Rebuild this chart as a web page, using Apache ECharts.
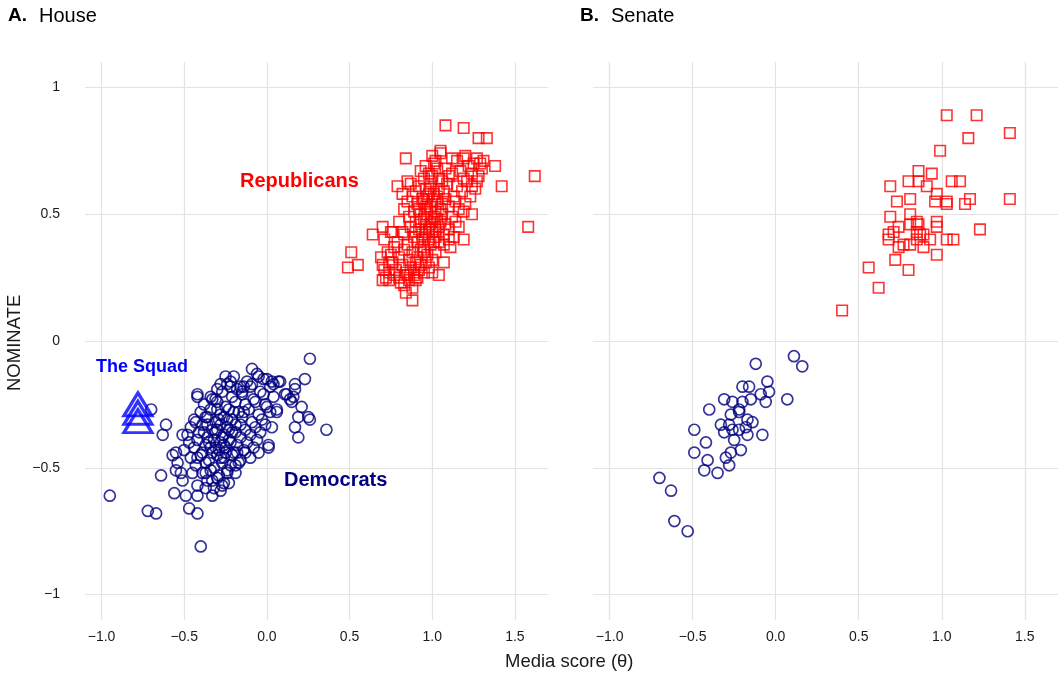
<!DOCTYPE html>
<html>
<head>
<meta charset="utf-8">
<script src="https://cdn.jsdelivr.net/npm/echarts@6/dist/echarts.min.js"></script>
<style>
  html, body { margin: 0; padding: 0; background: #fff; }
  #chart { width: 1058px; height: 676px; }
</style>
</head>
<body>
<div id="chart"></div>
<script>
// Ideology (DW-NOMINATE) against media score, by chamber.
const xTicks = [-1.0, -0.5, 0.0, 0.5, 1.0, 1.5];
const yTicks = [-1, -0.5, 0, 0.5, 1];

// House Republicans: [media score, NOMINATE]
const houseRepublicans = [
  [1.08,0.85],[1.19,0.84],[1.28,0.80],[1.33,0.80],[0.84,0.72],[1.05,0.75],[1.38,0.69],[1.62,0.65],
  [1.42,0.61],[0.85,0.63],[0.79,0.61],[1.58,0.45],[0.64,0.42],[0.51,0.35],[0.49,0.29],[0.55,0.30],
  [0.84,0.19],[0.88,0.16],[1.00,0.27],[1.04,0.26],[1.07,0.31],[0.90,0.24],[0.70,0.24],[0.74,0.24],
  [0.71,0.28],[0.69,0.33],[1.19,0.40],[1.11,0.37],[1.07,0.38],[1.24,0.50],[1.19,0.72],[1.27,0.72],
  [1.31,0.71],[1.28,0.65],[1.24,0.61],[0.70,0.45],[0.76,0.43],[0.82,0.43],[0.75,0.34],[0.74,0.31],
  [0.90,0.31],[0.89,0.27],[0.91,0.25],
  [1.00,0.73],[1.02,0.71],[1.05,0.74],[1.12,0.72],[1.20,0.73],[1.25,0.70],
  [0.96,0.69],[1.01,0.70],[1.08,0.68],[1.15,0.71],[1.22,0.69],[1.29,0.70],
  [0.93,0.67],[0.98,0.66],[1.03,0.68],[1.10,0.65],[1.17,0.67],[1.24,0.66],[1.30,0.68],
  [0.95,0.64],[1.00,0.65],[1.06,0.63],[1.12,0.66],[1.19,0.64],[1.27,0.63],
  [0.87,0.62],[0.92,0.61],[0.99,0.63],[1.04,0.60],[1.09,0.62],[1.15,0.61],[1.21,0.63],[1.26,0.60],
  [0.90,0.59],[0.96,0.60],[1.01,0.58],[1.07,0.59],[1.13,0.57],[1.18,0.59],[1.23,0.57],
  [0.82,0.58],[0.88,0.57],[0.94,0.56],[0.98,0.58],[1.03,0.55],[1.08,0.56],[1.14,0.55],[1.20,0.54],
  [0.85,0.55],[0.91,0.54],[0.96,0.53],[1.00,0.55],[1.05,0.52],[1.10,0.53],[1.16,0.52],
  [0.83,0.52],[0.89,0.51],[0.93,0.50],[0.97,0.52],[1.01,0.49],[1.06,0.50],[1.12,0.49],[1.19,0.51],
  [0.86,0.49],[0.90,0.47],[0.95,0.48],[0.99,0.46],[1.03,0.48],[1.08,0.46],[1.14,0.47],
  [0.80,0.47],[0.87,0.45],[0.92,0.44],[0.96,0.45],[1.00,0.43],[1.04,0.45],[1.10,0.44],[1.16,0.45],
  [0.75,0.43],[0.83,0.42],[0.89,0.41],[0.94,0.42],[0.98,0.40],[1.02,0.41],[1.07,0.42],[1.13,0.41],
  [0.71,0.40],[0.79,0.39],[0.85,0.38],[0.91,0.39],[0.95,0.37],[0.99,0.38],[1.04,0.39],[1.10,0.40],
  [0.77,0.37],[0.83,0.36],[0.88,0.35],[0.93,0.36],[0.97,0.34],[1.02,0.35],
  [0.73,0.35],[0.80,0.33],[0.86,0.32],[0.91,0.33],[0.96,0.31],[1.00,0.32],
  [0.76,0.31],[0.82,0.30],[0.87,0.29],[0.93,0.30],[0.98,0.29],
  [0.70,0.30],[0.78,0.28],[0.84,0.27],[0.89,0.26],[0.95,0.27],
  [0.74,0.27],[0.80,0.25],[0.86,0.24],[0.92,0.28],
  [0.77,0.26],[0.83,0.22],[0.88,0.21],
  [0.72,0.25],[0.81,0.23],[0.85,0.26],
  [0.95,0.55],[0.97,0.50],[0.99,0.53],[1.02,0.51],[0.93,0.47],[0.96,0.43],[1.00,0.47],[1.02,0.44],
  [0.94,0.40],[0.98,0.44],[1.03,0.57],[0.97,0.57],[1.05,0.47],[0.92,0.52],[0.90,0.43],[1.01,0.39],
  [0.95,0.35],[1.06,0.54],[0.99,0.60],[1.04,0.64]
];

// House Democrats: [media score, NOMINATE]
const houseDemocrats = [
  [0.26,-0.07],[0.36,-0.35],[0.23,-0.15],[0.17,-0.17],[0.17,-0.19],[0.21,-0.26],[0.19,-0.30],[0.25,-0.30],
  [0.26,-0.31],[0.17,-0.34],[0.19,-0.38],[0.06,-0.27],[0.06,-0.28],[0.11,-0.21],[0.14,-0.23],[0.16,-0.22],
  [0.07,-0.16],[0.03,-0.16],[0.00,-0.15],[-0.02,-0.15],[-0.09,-0.11],[-0.06,-0.13],[-0.25,-0.14],[-0.28,-0.17],
  [-0.22,-0.16],[-0.22,-0.18],[-0.09,-0.17],[-0.14,-0.18],[-0.15,-0.20],[-0.31,-0.23],[0.03,-0.34],[0.01,-0.41],
  [-0.01,-0.25],[-0.70,-0.27],[-0.61,-0.33],[-0.63,-0.37],[-0.42,-0.21],[-0.42,-0.22],[-0.51,-0.37],[-0.55,-0.44],
  [-0.43,-0.32],[-0.36,-0.30],[-0.33,-0.23],[-0.30,-0.27],[-0.95,-0.61],[-0.72,-0.67],[-0.67,-0.68],[-0.40,-0.81],
  [-0.64,-0.53],[-0.56,-0.60],[-0.49,-0.61],[-0.47,-0.66],[-0.42,-0.68],[-0.42,-0.61],[-0.33,-0.61],[-0.28,-0.59],
  [-0.23,-0.56],[-0.57,-0.45],[-0.54,-0.48],[-0.55,-0.51],[-0.52,-0.52],[-0.51,-0.55],[-0.45,-0.52],[-0.37,-0.52],
  [-0.33,-0.55],[-0.37,-0.58],[-0.42,-0.57],[-0.24,-0.52],[-0.19,-0.49],[-0.13,-0.44],[-0.05,-0.44],[0.01,-0.42],
  [-0.16,-0.18],[0.04,-0.17],[0.08,-0.16],[0.12,-0.21],[0.15,-0.24],
  [-0.20,-0.14],[-0.12,-0.16],[-0.05,-0.14],
  [-0.30,-0.19],[-0.24,-0.17],[-0.18,-0.19],[-0.10,-0.18],[-0.04,-0.20],[0.02,-0.18],
  [-0.34,-0.22],[-0.27,-0.20],[-0.21,-0.22],[-0.15,-0.21],[-0.08,-0.23],[-0.02,-0.21],[0.04,-0.22],
  [-0.38,-0.25],[-0.30,-0.24],[-0.25,-0.26],[-0.19,-0.24],[-0.13,-0.25],[-0.07,-0.24],[0.00,-0.26],
  [-0.40,-0.28],[-0.34,-0.27],[-0.28,-0.29],[-0.23,-0.27],[-0.17,-0.28],[-0.11,-0.27],[-0.05,-0.29],[0.02,-0.28],
  [-0.44,-0.31],[-0.37,-0.30],[-0.31,-0.32],[-0.26,-0.30],[-0.21,-0.31],[-0.15,-0.30],[-0.09,-0.32],[-0.03,-0.31],
  [-0.46,-0.34],[-0.39,-0.33],[-0.33,-0.35],[-0.28,-0.33],[-0.24,-0.34],[-0.19,-0.33],[-0.13,-0.35],[-0.07,-0.34],[-0.01,-0.33],
  [-0.48,-0.37],[-0.41,-0.36],[-0.36,-0.38],[-0.31,-0.36],[-0.26,-0.37],[-0.21,-0.36],[-0.16,-0.38],[-0.10,-0.37],[-0.04,-0.36],
  [-0.47,-0.40],[-0.42,-0.39],[-0.37,-0.41],[-0.32,-0.39],[-0.28,-0.40],[-0.23,-0.39],[-0.18,-0.41],[-0.12,-0.40],[-0.06,-0.39],
  [-0.50,-0.43],[-0.44,-0.42],[-0.39,-0.44],[-0.34,-0.42],[-0.29,-0.43],[-0.25,-0.42],[-0.20,-0.44],[-0.14,-0.43],[-0.08,-0.42],
  [-0.46,-0.46],[-0.40,-0.45],[-0.35,-0.47],[-0.30,-0.45],[-0.26,-0.46],[-0.21,-0.45],[-0.16,-0.47],[-0.10,-0.46],
  [-0.43,-0.49],[-0.37,-0.48],[-0.32,-0.50],[-0.27,-0.48],[-0.22,-0.49],[-0.17,-0.48],
  [-0.39,-0.52],[-0.34,-0.51],[-0.29,-0.53],[-0.24,-0.51],[-0.19,-0.52],
  [-0.36,-0.55],[-0.30,-0.54],[-0.26,-0.56],
  [-0.32,-0.58],[-0.27,-0.57],
  [-0.30,-0.35],[-0.27,-0.38],[-0.24,-0.31],[-0.22,-0.40],[-0.35,-0.40],[-0.19,-0.36],[-0.33,-0.44],[-0.28,-0.46],
  [-0.25,-0.44],[-0.31,-0.42],[-0.20,-0.28],[-0.16,-0.33],[-0.38,-0.36],[-0.42,-0.46],[-0.23,-0.35],[-0.29,-0.31],
  [-0.14,-0.28],[-0.36,-0.33],[-0.26,-0.41],[-0.18,-0.44]
];

// The Squad (House Democrats marked separately)
const theSquad = [[-0.78,-0.25],[-0.78,-0.283],[-0.78,-0.316]];

// Senate Republicans
const senateRepublicans = [
  [1.03,0.89],[1.21,0.89],[1.16,0.80],[1.41,0.82],[0.99,0.75],[0.86,0.67],[0.94,0.66],[0.69,0.61],
  [0.80,0.63],[0.86,0.63],[0.91,0.61],[0.97,0.58],[1.06,0.63],[1.11,0.63],[0.73,0.55],[0.81,0.56],
  [0.96,0.55],[1.03,0.55],[1.03,0.54],[1.14,0.54],[1.17,0.56],[1.41,0.56],[0.69,0.49],[0.81,0.50],
  [0.85,0.47],[0.86,0.46],[0.81,0.46],[0.97,0.47],[0.97,0.45],[0.74,0.45],[0.71,0.43],[0.68,0.42],
  [0.68,0.40],[0.85,0.43],[0.87,0.42],[0.89,0.42],[0.85,0.40],[0.93,0.40],[1.03,0.40],[1.07,0.40],
  [1.23,0.44],[0.77,0.38],[0.74,0.37],[0.81,0.38],[0.89,0.37],[0.97,0.34],[0.72,0.32],[0.80,0.28],
  [0.56,0.29],[0.62,0.21],[0.40,0.12]
];

// Senate Democrats
const senateDemocrats = [
  [0.11,-0.06],[0.16,-0.10],[-0.12,-0.09],[-0.20,-0.18],[-0.16,-0.18],[-0.05,-0.16],[-0.04,-0.20],[-0.09,-0.21],
  [0.07,-0.23],[-0.06,-0.24],[-0.15,-0.23],[-0.31,-0.23],[-0.26,-0.24],[-0.20,-0.24],[-0.40,-0.27],[-0.22,-0.27],
  [-0.27,-0.29],[-0.22,-0.28],[-0.17,-0.31],[-0.14,-0.32],[-0.18,-0.34],[-0.17,-0.37],[-0.33,-0.33],[-0.28,-0.33],
  [-0.31,-0.36],[-0.26,-0.35],[-0.22,-0.35],[-0.25,-0.39],[-0.08,-0.37],[-0.49,-0.35],[-0.42,-0.40],[-0.21,-0.43],
  [-0.27,-0.44],[-0.30,-0.46],[-0.28,-0.49],[-0.49,-0.44],[-0.41,-0.47],[-0.43,-0.51],[-0.35,-0.52],[-0.70,-0.54],
  [-0.63,-0.59],[-0.61,-0.71],[-0.53,-0.75]
];

const RED = '#ff0000', NAVY = '#000080', BLUE = '#0000ff';
const FONT = '"Liberation Sans", Arial, Helvetica, sans-serif';
const minus = v => String(v).replace('-', '\u2212');

function xAxisFor(gridIndex) {
  return {
    gridIndex, type: 'value', min: -1.1, max: 1.7,
    axisLine: { show: false },
    axisTick: { show: false, customValues: xTicks },
    axisLabel: {
      customValues: xTicks, margin: 10, color: '#1a1a1a', fontSize: 14, fontFamily: FONT,
      formatter: v => minus(v.toFixed(1))
    },
    splitLine: { show: true, lineStyle: { color: '#e3e3e3', width: 1.2 } }
  };
}
function yAxisFor(gridIndex, showLabels) {
  return {
    gridIndex, type: 'value', min: -1.1, max: 1.1,
    axisLine: { show: false },
    axisTick: { show: false, customValues: yTicks },
    axisLabel: {
      show: showLabels, customValues: yTicks, margin: 25, color: '#1a1a1a', fontSize: 14, fontFamily: FONT,
      formatter: v => minus(v)
    },
    splitLine: { show: true, lineStyle: { color: '#e3e3e3', width: 1.2 } }
  };
}

const squareStyle = { color: 'rgba(0,0,0,0)', borderColor: RED, borderWidth: 1.6 };
const circleStyle = { color: 'rgba(0,0,0,0)', borderColor: NAVY, borderWidth: 1.7 };

// Plain text placed by its top-left corner
function label(text, x, y, size, weight, fill, extra) {
  return Object.assign({
    type: 'text', x, y, z: 100,
    style: { text, x: 0, y: 0, fontSize: size, fontWeight: weight, fontFamily: FONT, fill,
             textAlign: 'left', textVerticalAlign: 'top' }
  }, extra || {});
}

const chart = echarts.init(document.getElementById('chart'), null, { renderer: 'canvas' });
chart.setOption({
  animation: false,
  backgroundColor: '#fff',
  textStyle: { fontFamily: FONT },
  grid: [
    { left: 85, width: 463, top: 62, height: 558 },
    { left: 593, right: 0, top: 62, height: 558 }
  ],
  xAxis: [xAxisFor(0), xAxisFor(1)],
  yAxis: [yAxisFor(0, true), yAxisFor(1, false)],
  series: [
    { type: 'scatter', xAxisIndex: 0, yAxisIndex: 0, data: houseRepublicans,
      symbol: 'rect', symbolSize: 10.5, itemStyle: squareStyle },
    { type: 'scatter', xAxisIndex: 0, yAxisIndex: 0, data: houseDemocrats,
      symbol: 'circle', symbolSize: 11, itemStyle: circleStyle },
    { type: 'scatter', xAxisIndex: 0, yAxisIndex: 0, data: theSquad,
      symbol: 'triangle', symbolSize: [28, 23],
      itemStyle: { color: 'rgba(0,0,0,0)', borderColor: BLUE, borderWidth: 3.2 } },
    { type: 'scatter', xAxisIndex: 1, yAxisIndex: 1, data: senateRepublicans,
      symbol: 'rect', symbolSize: 10.5, itemStyle: squareStyle },
    { type: 'scatter', xAxisIndex: 1, yAxisIndex: 1, data: senateDemocrats,
      symbol: 'circle', symbolSize: 11, itemStyle: circleStyle }
  ],
  graphic: [
    label('A.', 8, 6, 19, 'bold', '#000'),
    label('House', 39, 6, 20, 'normal', '#000'),
    label('B.', 580, 6, 19, 'bold', '#000'),
    label('Senate', 611, 6, 20, 'normal', '#000'),
    label('Republicans', 240, 171, 20, 'bold', RED),
    label('The Squad', 96, 358, 18, 'bold', BLUE),
    label('Democrats', 284, 470, 20, 'bold', NAVY),
    label('NOMINATE', 5, 391, 18.5, 'normal', '#1a1a1a', { rotation: Math.PI / 2 }),
    label('Media score (\u03b8)', 505, 652, 18.5, 'normal', '#1a1a1a')
  ]
});
</script>
</body>
</html>
